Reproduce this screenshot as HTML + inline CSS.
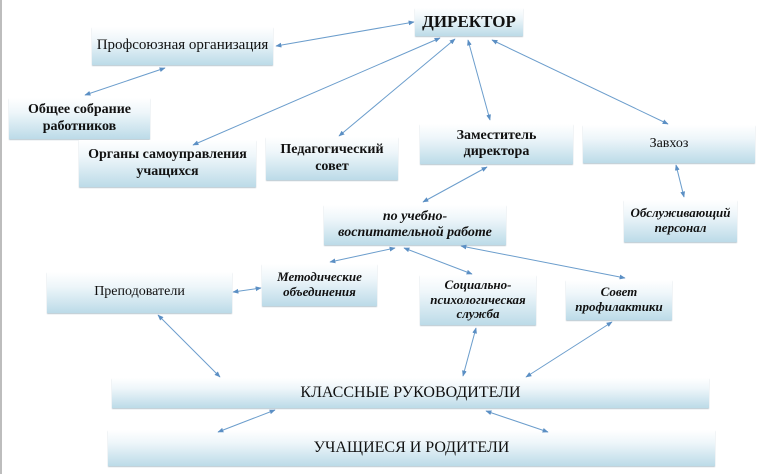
<!DOCTYPE html>
<html><head><meta charset="utf-8"><style>
html,body{margin:0;padding:0;background:#fff;}
body{width:768px;height:474px;overflow:hidden;position:relative;}
.b{position:absolute;background:linear-gradient(#ffffff 0%,#eef6fa 35%,#bcdbe8 100%);display:flex;align-items:center;justify-content:center;text-align:center;color:#111;line-height:1.15;box-shadow:0 1px 1px #b8c8d0;font-family:"Liberation Serif","Times New Roman","DejaVu Serif",serif;}
.bo{font-weight:bold;}
.it{font-style:italic;font-weight:bold;}
svg{position:absolute;left:0;top:0;}
</style></head><body>
<div style="position:absolute;left:0;top:0;width:2px;height:474px;background:#bdbdbd"></div>
<div class="b" style="left:92px;top:27px;width:181px;height:38px;font-size:15px">Профсоюзная организация</div>
<div class="b bo" style="left:415px;top:8px;width:108px;height:28px;font-size:17px">ДИРЕКТОР</div>
<div class="b bo" style="left:9px;top:98px;width:141px;height:41px;font-size:14px">Общее собрание<br>работников</div>
<div class="b bo" style="left:79px;top:140px;width:177px;height:47px;font-size:14px">Органы самоуправления<br>учащихся</div>
<div class="b bo" style="left:266px;top:137px;width:132px;height:43px;font-size:14px">Педагогический<br>совет</div>
<div class="b bo" style="left:420px;top:124px;width:153px;height:40px;font-size:14px">Заместитель<br>директора</div>
<div class="b" style="left:583px;top:125px;width:172px;height:38px;font-size:14px">Завхоз</div>
<div class="b it" style="left:324px;top:205px;width:182px;height:40px;font-size:14px">по учебно-<br>воспитательной работе</div>
<div class="b it" style="left:624px;top:200px;width:113px;height:42px;font-size:13px">Обслуживающий<br>персонал</div>
<div class="b" style="left:47px;top:272px;width:185px;height:41px;font-size:14px">Преподователи</div>
<div class="b it" style="left:262px;top:264px;width:115px;height:42px;font-size:13px">Методические<br>объединения</div>
<div class="b it" style="left:420px;top:275px;width:116px;height:50px;font-size:13px">Социально-<br>психологическая<br>служба</div>
<div class="b it" style="left:566px;top:280px;width:106px;height:40px;font-size:13px">Совет<br>профилактики</div>
<div class="b" style="left:112px;top:378px;width:597px;height:30px;font-size:16px">КЛАССНЫЕ РУКОВОДИТЕЛИ</div>
<div class="b" style="left:108px;top:430px;width:607px;height:36px;font-size:16px">УЧАЩИЕСЯ И РОДИТЕЛИ</div>
<svg width="768" height="474" viewBox="0 0 768 474">
<defs><marker id="a" viewBox="0 0 10 10" refX="9" refY="5" markerWidth="6" markerHeight="6" orient="auto-start-reverse"><path d="M0,1 L10,5 L0,9 z" fill="#5b8fc4"/></marker></defs>
<g stroke="#6b9dcc" stroke-width="1" fill="none" marker-start="url(#a)" marker-end="url(#a)">
<line x1="414" y1="22" x2="276" y2="46"/>
<line x1="165" y1="68" x2="85" y2="95"/>
<line x1="440" y1="38" x2="193" y2="145"/>
<line x1="455" y1="39" x2="339" y2="136"/>
<line x1="468" y1="40" x2="490" y2="120"/>
<line x1="492" y1="40" x2="668" y2="124"/>
<line x1="487" y1="167" x2="423" y2="202"/>
<line x1="676" y1="165" x2="684" y2="197"/>
<line x1="395" y1="248" x2="330" y2="262"/>
<line x1="404" y1="248" x2="472" y2="274"/>
<line x1="461" y1="246" x2="625" y2="278"/>
<line x1="233" y1="292" x2="261" y2="288"/>
<line x1="158" y1="315" x2="220" y2="377"/>
<line x1="476" y1="328" x2="463" y2="376"/>
<line x1="612" y1="322" x2="526" y2="377"/>
<line x1="275" y1="410" x2="218" y2="432"/>
<line x1="486" y1="411" x2="548" y2="432"/>
</g></svg>
</body></html>
